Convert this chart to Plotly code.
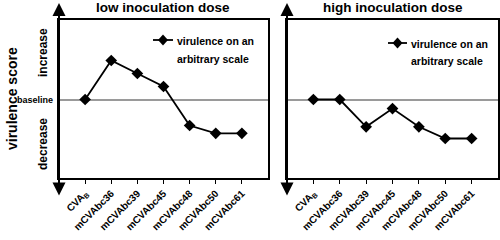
import plotly.graph_objects as go

categories = ["CVA<sub>B</sub>", "mCVAbc36", "mCVAbc39", "mCVAbc45", "mCVAbc48", "mCVAbc50", "mCVAbc61"]
low_dose = [0, 3, 2, 1, -2, -2.6, -2.6]
high_dose = [0, 0, -2.1, -0.7, -2.1, -3, -3]
panel_titles = ["low inoculation dose", "high inoculation dose"]
legend_lines = ["virulence on an", "arbitrary scale"]
y_title = "virulence score"

FONT = "Liberation Sans, Arial, sans-serif"
W, H = 500, 240

def px(x):
    return x / W

def py(y):
    return 1 - y / H

fig = go.Figure()
idx = list(range(len(categories)))
for data, xa, ya in [(low_dose, "x", "y"), (high_dose, "x2", "y2")]:
    fig.add_trace(go.Scatter(x=idx, y=data, mode="lines+markers", xaxis=xa, yaxis=ya,
                             line=dict(color="black", width=1.8),
                             marker=dict(symbol="diamond", size=9, color="black"),
                             showlegend=False, hoverinfo="x+y"))

ydom = [py(178), py(20)]
yr = [-(178 - 99.5) / 13, (99.5 - 20) / 13]
xdoms = [[px(59), px(268)], [px(287), px(498)]]

common_x = dict(range=[-1, 7], tickmode="array", tickvals=idx,
                ticktext=["<b>%s</b>" % c for c in categories],
                tickangle=-45, ticks="outside", ticklen=4, tickwidth=1.3, tickcolor="black",
                showline=True, linecolor="black", linewidth=1.5, mirror=True,
                showgrid=False, zeroline=False, automargin=False,
                tickfont=dict(family=FONT, size=10, color="black"))
common_y = dict(range=yr, domain=ydom, showticklabels=False, ticks="", automargin=False,
                showline=True, linecolor="black", linewidth=1.5, mirror=True,
                showgrid=False, zeroline=True, zerolinecolor="#9a9a9a", zerolinewidth=1.5)

fig.update_layout(
    width=W, height=H, margin=dict(l=0, r=0, t=0, b=0, autoexpand=False),
    plot_bgcolor="white", paper_bgcolor="white", showlegend=False,
    xaxis=dict(domain=xdoms[0], anchor="y", **common_x),
    yaxis=dict(anchor="x", **common_y),
    xaxis2=dict(domain=xdoms[1], anchor="y2", **common_x),
    yaxis2=dict(anchor="x2", **common_y),
)

ann = []
shapes = []
# panel titles
for t, cx in zip(panel_titles, [163, 393]):
    ann.append(dict(text="<b>%s</b>" % t, x=px(cx), y=py(8), xref="paper", yref="paper",
                    showarrow=False, font=dict(family=FONT, size=13.5, color="black"),
                    xanchor="center", yanchor="middle"))
# y axis double arrows
for ax_x in [59, 287]:
    ann.append(dict(x=px(ax_x), y=py(3), ax=0, ay=194, xref="paper", yref="paper",
                    axref="pixel", ayref="pixel", text="", showarrow=True,
                    arrowhead=2, startarrowhead=2, arrowside="end+start",
                    arrowsize=1.3, startarrowsize=1.3, arrowwidth=2, arrowcolor="black",
                    standoff=0, startstandoff=0))
# legends (manual)
for (lx0, lx1, ly, tx) in [(153, 173, 40, 175), (388, 407, 43, 409)]:
    shapes.append(dict(type="line", xref="paper", yref="paper", x0=px(lx0), x1=px(lx1),
                       y0=py(ly), y1=py(ly), line=dict(color="black", width=1.8)))
    cx = (lx0 + lx1) / 2
    shapes.append(dict(type="path", xref="paper", yref="paper", xsizemode="pixel", ysizemode="pixel",
                       xanchor=px(cx), yanchor=py(ly),
                       path="M -5 0 L 0 5.5 L 5 0 L 0 -5.5 Z",
                       fillcolor="black", line=dict(color="black", width=0)))
    for k, line in enumerate(legend_lines):
        ann.append(dict(text="<b>%s</b>" % line, x=px(tx), y=py(ly + 1 + 17.5 * k),
                        xref="paper", yref="paper", showarrow=False,
                        xanchor="left", yanchor="middle",
                        font=dict(family=FONT, size=10.5, color="black")))
# y labels
ann.append(dict(text="<b>%s</b>" % y_title, x=px(12), y=py(99), xref="paper", yref="paper",
                xanchor="center", yanchor="middle",
                showarrow=False, textangle=-90, font=dict(family=FONT, size=14, color="black")))
ann.append(dict(text="<b>increase</b>", x=px(43), y=py(53), xref="paper", yref="paper",
                xanchor="center", yanchor="middle",
                showarrow=False, textangle=-90, font=dict(family=FONT, size=12, color="black")))
ann.append(dict(text="<b>decrease</b>", x=px(43), y=py(144), xref="paper", yref="paper",
                xanchor="center", yanchor="middle",
                showarrow=False, textangle=-90, font=dict(family=FONT, size=12, color="black")))
ann.append(dict(text="<b>baseline</b>", x=px(55), y=py(99.5), xref="paper", yref="paper",
                showarrow=False, xanchor="right", yanchor="middle",
                font=dict(family=FONT, size=9, color="black")))
fig.update_layout(annotations=ann, shapes=shapes)

fig.write_html("out.html", config={"displayModeBar": False},
               post_script="document.body.style.margin='0';document.body.style.overflow='hidden';")
